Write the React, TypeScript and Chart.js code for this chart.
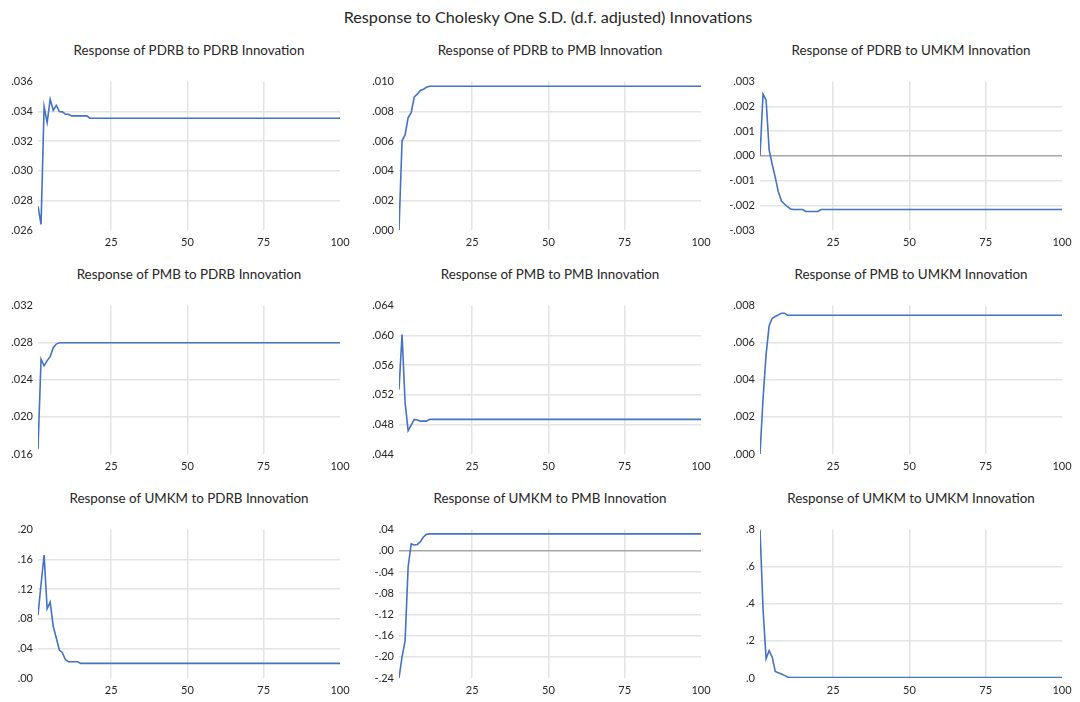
import React, { useEffect, useRef } from "react";
import { Chart, registerables } from "chart.js";

Chart.register(...registerables);
Chart.defaults.font.family = "Lato, 'Open Sans', sans-serif";

const mainTitle = "Response to Cholesky One S.D. (d.f. adjusted) Innovations";

const panelTitles = [
  "Response of PDRB to PDRB Innovation",
  "Response of PDRB to PMB Innovation",
  "Response of PDRB to UMKM Innovation",
  "Response of PMB to PDRB Innovation",
  "Response of PMB to PMB Innovation",
  "Response of PMB to UMKM Innovation",
  "Response of UMKM to PDRB Innovation",
  "Response of UMKM to PMB Innovation",
  "Response of UMKM to UMKM Innovation",
];

const periods = Array.from({ length: 100 }, (_, i) => i + 1);
const xTicks = [25, 50, 75, 100];

const pdrbToPdrb = [
  0.0276, 0.02638, 0.03431, 0.03324, 0.03481, 0.03407, 0.0344, 0.03398, 0.03396, 0.0338,
  0.0338, 0.03369, 0.03369, 0.03369, 0.03369, 0.03369, 0.03369, 0.03353, 0.03353, 0.03353,
  0.03353, 0.03353, 0.03353, 0.03353, 0.03353, 0.03353, 0.03353, 0.03353, 0.03353, 0.03353,
  0.03353, 0.03353, 0.03353, 0.03353, 0.03353, 0.03353, 0.03353, 0.03353, 0.03353, 0.03353,
  0.03353, 0.03353, 0.03353, 0.03353, 0.03353, 0.03353, 0.03353, 0.03353, 0.03353, 0.03353,
  0.03353, 0.03353, 0.03353, 0.03353, 0.03353, 0.03353, 0.03353, 0.03353, 0.03353, 0.03353,
  0.03353, 0.03353, 0.03353, 0.03353, 0.03353, 0.03353, 0.03353, 0.03353, 0.03353, 0.03353,
  0.03353, 0.03353, 0.03353, 0.03353, 0.03353, 0.03353, 0.03353, 0.03353, 0.03353, 0.03353,
  0.03353, 0.03353, 0.03353, 0.03353, 0.03353, 0.03353, 0.03353, 0.03353, 0.03353, 0.03353,
  0.03353, 0.03353, 0.03353, 0.03353, 0.03353, 0.03353, 0.03353, 0.03353, 0.03353, 0.03353,
];

const pdrbToPmb = [
  0.0, 0.00601, 0.00641, 0.00758, 0.00791, 0.00897, 0.00915, 0.0094, 0.00948, 0.00962,
  0.00969, 0.00969, 0.00969, 0.00969, 0.00969, 0.00969, 0.00969, 0.00969, 0.00969, 0.00969,
  0.00969, 0.00969, 0.00969, 0.00969, 0.00969, 0.00969, 0.00969, 0.00969, 0.00969, 0.00969,
  0.00969, 0.00969, 0.00969, 0.00969, 0.00969, 0.00969, 0.00969, 0.00969, 0.00969, 0.00969,
  0.00969, 0.00969, 0.00969, 0.00969, 0.00969, 0.00969, 0.00969, 0.00969, 0.00969, 0.00969,
  0.00969, 0.00969, 0.00969, 0.00969, 0.00969, 0.00969, 0.00969, 0.00969, 0.00969, 0.00969,
  0.00969, 0.00969, 0.00969, 0.00969, 0.00969, 0.00969, 0.00969, 0.00969, 0.00969, 0.00969,
  0.00969, 0.00969, 0.00969, 0.00969, 0.00969, 0.00969, 0.00969, 0.00969, 0.00969, 0.00969,
  0.00969, 0.00969, 0.00969, 0.00969, 0.00969, 0.00969, 0.00969, 0.00969, 0.00969, 0.00969,
  0.00969, 0.00969, 0.00969, 0.00969, 0.00969, 0.00969, 0.00969, 0.00969, 0.00969, 0.00969,
];

const pdrbToUmkm = [
  0.0, 0.00249, 0.00226, 0.00023, -0.00034, -0.00087, -0.00145, -0.00182, -0.00195, -0.00206,
  -0.00215, -0.00217, -0.00217, -0.00217, -0.00217, -0.00225, -0.00225, -0.00225, -0.00225, -0.00225,
  -0.00217, -0.00217, -0.00217, -0.00217, -0.00217, -0.00217, -0.00217, -0.00217, -0.00217, -0.00217,
  -0.00217, -0.00217, -0.00217, -0.00217, -0.00217, -0.00217, -0.00217, -0.00217, -0.00217, -0.00217,
  -0.00217, -0.00217, -0.00217, -0.00217, -0.00217, -0.00217, -0.00217, -0.00217, -0.00217, -0.00217,
  -0.00217, -0.00217, -0.00217, -0.00217, -0.00217, -0.00217, -0.00217, -0.00217, -0.00217, -0.00217,
  -0.00217, -0.00217, -0.00217, -0.00217, -0.00217, -0.00217, -0.00217, -0.00217, -0.00217, -0.00217,
  -0.00217, -0.00217, -0.00217, -0.00217, -0.00217, -0.00217, -0.00217, -0.00217, -0.00217, -0.00217,
  -0.00217, -0.00217, -0.00217, -0.00217, -0.00217, -0.00217, -0.00217, -0.00217, -0.00217, -0.00217,
  -0.00217, -0.00217, -0.00217, -0.00217, -0.00217, -0.00217, -0.00217, -0.00217, -0.00217, -0.00217,
];

const pmbToPdrb = [
  0.01653, 0.02622, 0.02551, 0.02607, 0.0265, 0.02746, 0.02785, 0.02799, 0.028, 0.028,
  0.028, 0.028, 0.028, 0.028, 0.028, 0.028, 0.028, 0.028, 0.028, 0.028,
  0.028, 0.028, 0.028, 0.028, 0.028, 0.028, 0.028, 0.028, 0.028, 0.028,
  0.028, 0.028, 0.028, 0.028, 0.028, 0.028, 0.028, 0.028, 0.028, 0.028,
  0.028, 0.028, 0.028, 0.028, 0.028, 0.028, 0.028, 0.028, 0.028, 0.028,
  0.028, 0.028, 0.028, 0.028, 0.028, 0.028, 0.028, 0.028, 0.028, 0.028,
  0.028, 0.028, 0.028, 0.028, 0.028, 0.028, 0.028, 0.028, 0.028, 0.028,
  0.028, 0.028, 0.028, 0.028, 0.028, 0.028, 0.028, 0.028, 0.028, 0.028,
  0.028, 0.028, 0.028, 0.028, 0.028, 0.028, 0.028, 0.028, 0.028, 0.028,
  0.028, 0.028, 0.028, 0.028, 0.028, 0.028, 0.028, 0.028, 0.028, 0.028,
];

const pmbToPmb = [
  0.05269, 0.0601, 0.05092, 0.04715, 0.0479, 0.04866, 0.04857, 0.04843, 0.04843, 0.04843,
  0.04866, 0.04866, 0.04866, 0.04866, 0.04866, 0.04866, 0.04866, 0.04866, 0.04866, 0.04866,
  0.04866, 0.04866, 0.04866, 0.04866, 0.04866, 0.04866, 0.04866, 0.04866, 0.04866, 0.04866,
  0.04866, 0.04866, 0.04866, 0.04866, 0.04866, 0.04866, 0.04866, 0.04866, 0.04866, 0.04866,
  0.04866, 0.04866, 0.04866, 0.04866, 0.04866, 0.04866, 0.04866, 0.04866, 0.04866, 0.04866,
  0.04866, 0.04866, 0.04866, 0.04866, 0.04866, 0.04866, 0.04866, 0.04866, 0.04866, 0.04866,
  0.04866, 0.04866, 0.04866, 0.04866, 0.04866, 0.04866, 0.04866, 0.04866, 0.04866, 0.04866,
  0.04866, 0.04866, 0.04866, 0.04866, 0.04866, 0.04866, 0.04866, 0.04866, 0.04866, 0.04866,
  0.04866, 0.04866, 0.04866, 0.04866, 0.04866, 0.04866, 0.04866, 0.04866, 0.04866, 0.04866,
  0.04866, 0.04866, 0.04866, 0.04866, 0.04866, 0.04866, 0.04866, 0.04866, 0.04866, 0.04866,
];

const pmbToUmkm = [
  0.0, 0.00298, 0.00537, 0.00691, 0.00732, 0.00741, 0.0075, 0.00759, 0.00759, 0.00748,
  0.00748, 0.00748, 0.00748, 0.00748, 0.00748, 0.00748, 0.00748, 0.00748, 0.00748, 0.00748,
  0.00748, 0.00748, 0.00748, 0.00748, 0.00748, 0.00748, 0.00748, 0.00748, 0.00748, 0.00748,
  0.00748, 0.00748, 0.00748, 0.00748, 0.00748, 0.00748, 0.00748, 0.00748, 0.00748, 0.00748,
  0.00748, 0.00748, 0.00748, 0.00748, 0.00748, 0.00748, 0.00748, 0.00748, 0.00748, 0.00748,
  0.00748, 0.00748, 0.00748, 0.00748, 0.00748, 0.00748, 0.00748, 0.00748, 0.00748, 0.00748,
  0.00748, 0.00748, 0.00748, 0.00748, 0.00748, 0.00748, 0.00748, 0.00748, 0.00748, 0.00748,
  0.00748, 0.00748, 0.00748, 0.00748, 0.00748, 0.00748, 0.00748, 0.00748, 0.00748, 0.00748,
  0.00748, 0.00748, 0.00748, 0.00748, 0.00748, 0.00748, 0.00748, 0.00748, 0.00748, 0.00748,
  0.00748, 0.00748, 0.00748, 0.00748, 0.00748, 0.00748, 0.00748, 0.00748, 0.00748, 0.00748,
];

const umkmToPdrb = [
  0.0846, 0.1263, 0.1658, 0.0934, 0.1022, 0.0693, 0.0539, 0.0377, 0.0342, 0.0246,
  0.0219, 0.0219, 0.0219, 0.0219, 0.0197, 0.0197, 0.0197, 0.0197, 0.0197, 0.0197,
  0.0197, 0.0197, 0.0197, 0.0197, 0.0197, 0.0197, 0.0197, 0.0197, 0.0197, 0.0197,
  0.0197, 0.0197, 0.0197, 0.0197, 0.0197, 0.0197, 0.0197, 0.0197, 0.0197, 0.0197,
  0.0197, 0.0197, 0.0197, 0.0197, 0.0197, 0.0197, 0.0197, 0.0197, 0.0197, 0.0197,
  0.0197, 0.0197, 0.0197, 0.0197, 0.0197, 0.0197, 0.0197, 0.0197, 0.0197, 0.0197,
  0.0197, 0.0197, 0.0197, 0.0197, 0.0197, 0.0197, 0.0197, 0.0197, 0.0197, 0.0197,
  0.0197, 0.0197, 0.0197, 0.0197, 0.0197, 0.0197, 0.0197, 0.0197, 0.0197, 0.0197,
  0.0197, 0.0197, 0.0197, 0.0197, 0.0197, 0.0197, 0.0197, 0.0197, 0.0197, 0.0197,
  0.0197, 0.0197, 0.0197, 0.0197, 0.0197, 0.0197, 0.0197, 0.0197, 0.0197, 0.0197,
];

const umkmToPmb = [
  -0.24, -0.2, -0.17, -0.03, 0.013, 0.011, 0.012, 0.017, 0.026, 0.031,
  0.032, 0.032, 0.032, 0.032, 0.032, 0.032, 0.032, 0.032, 0.032, 0.032,
  0.032, 0.032, 0.032, 0.032, 0.032, 0.032, 0.032, 0.032, 0.032, 0.032,
  0.032, 0.032, 0.032, 0.032, 0.032, 0.032, 0.032, 0.032, 0.032, 0.032,
  0.032, 0.032, 0.032, 0.032, 0.032, 0.032, 0.032, 0.032, 0.032, 0.032,
  0.032, 0.032, 0.032, 0.032, 0.032, 0.032, 0.032, 0.032, 0.032, 0.032,
  0.032, 0.032, 0.032, 0.032, 0.032, 0.032, 0.032, 0.032, 0.032, 0.032,
  0.032, 0.032, 0.032, 0.032, 0.032, 0.032, 0.032, 0.032, 0.032, 0.032,
  0.032, 0.032, 0.032, 0.032, 0.032, 0.032, 0.032, 0.032, 0.032, 0.032,
  0.032, 0.032, 0.032, 0.032, 0.032, 0.032, 0.032, 0.032, 0.032, 0.032,
];

const umkmToUmkm = [
  0.8, 0.371, 0.1036, 0.148, 0.1125, 0.0357, 0.0286, 0.0214, 0.0143, 0.0054,
  0.003, 0.003, 0.003, 0.003, 0.003, 0.003, 0.003, 0.003, 0.003, 0.003,
  0.003, 0.003, 0.003, 0.003, 0.003, 0.003, 0.003, 0.003, 0.003, 0.003,
  0.003, 0.003, 0.003, 0.003, 0.003, 0.003, 0.003, 0.003, 0.003, 0.003,
  0.003, 0.003, 0.003, 0.003, 0.003, 0.003, 0.003, 0.003, 0.003, 0.003,
  0.003, 0.003, 0.003, 0.003, 0.003, 0.003, 0.003, 0.003, 0.003, 0.003,
  0.003, 0.003, 0.003, 0.003, 0.003, 0.003, 0.003, 0.003, 0.003, 0.003,
  0.003, 0.003, 0.003, 0.003, 0.003, 0.003, 0.003, 0.003, 0.003, 0.003,
  0.003, 0.003, 0.003, 0.003, 0.003, 0.003, 0.003, 0.003, 0.003, 0.003,
  0.003, 0.003, 0.003, 0.003, 0.003, 0.003, 0.003, 0.003, 0.003, 0.003,
];

const allSeries = [
  pdrbToPdrb, pdrbToPmb, pdrbToUmkm,
  pmbToPdrb, pmbToPmb, pmbToUmkm,
  umkmToPdrb, umkmToPmb, umkmToUmkm,
];

const yMins = [0.026, 0.0, -0.003, 0.016, 0.044, 0.0, 0.0, -0.24, 0.0];
const yMaxs = [0.036, 0.01, 0.003, 0.032, 0.064, 0.008, 0.2, 0.04, 0.8];
const ySteps = [0.002, 0.002, 0.001, 0.004, 0.004, 0.002, 0.04, 0.04, 0.2];
const yDecimals = [3, 3, 3, 3, 3, 3, 2, 2, 1];

// layout (pixels)
const COL_W = 361;
const ROW_H = 224;
const AXIS_W = 38;
const PLOT_W = 302;
const PLOT_H = 150;
const PAD_TOP = 10;
const XAXIS_H = 20;
const FIRST_PLOT_TOP = 80;

const LINE_COLOR = "#4472c4";
const GRID_COLOR = "#e4e4e4";
const ZERO_COLOR = "#a6a6a6";
const TEXT_COLOR = "#262626";

function fmt(v: number, d: number, step: number) {
  const val = Math.abs(v) < step / 1000 ? 0 : v;
  const s = val.toFixed(d);
  return s.replace(/^(-?)0\./, "$1.");
}

function Panel({ idx }: { idx: number }) {
  const ref = useRef<HTMLCanvasElement | null>(null);
  const col = idx % 3;
  const row = Math.floor(idx / 3);
  const canvasW = COL_W;
  const canvasH = PAD_TOP + PLOT_H + XAXIS_H;

  useEffect(() => {
    if (!ref.current) return;
    const data = allSeries[idx].map((v, i) => ({ x: periods[i], y: v }));
    const yMin = yMins[idx];
    const yMax = yMaxs[idx];
    const dec = yDecimals[idx];
    const step = ySteps[idx];
    const chart = new Chart(ref.current, {
      type: "line",
      data: {
        datasets: [
          {
            data,
            borderColor: LINE_COLOR,
            backgroundColor: LINE_COLOR,
            borderWidth: 1.6,
            pointRadius: 0,
            tension: 0,
            fill: false,
          },
        ],
      },
      options: {
        responsive: false,
        animation: false,
        devicePixelRatio: 1,
        events: [],
        layout: {
          padding: { top: PAD_TOP, left: 0, right: COL_W - AXIS_W - PLOT_W, bottom: 0 },
        },
        plugins: {
          legend: { display: false },
          tooltip: { enabled: false },
          title: { display: false },
        },
        scales: {
          x: {
            type: "linear",
            min: 1,
            max: 100,
            afterBuildTicks: (s: any) => {
              s.ticks = xTicks.map((v) => ({ value: v }));
            },
            afterFit: (s: any) => {
              s.height = XAXIS_H;
            },
            border: { display: false },
            grid: {
              drawTicks: false,
              lineWidth: 1.5,
              color: (c: any) =>
                c.tick && c.tick.value === 100 ? "rgba(0,0,0,0)" : GRID_COLOR,
            },
            ticks: {
              padding: 6,
              autoSkip: false,
              maxRotation: 0,
              color: TEXT_COLOR,
              font: { size: 11 },
              callback: (v: any) => String(v),
            },
          },
          y: {
            type: "linear",
            min: yMin,
            max: yMax,
            afterFit: (s: any) => {
              s.width = AXIS_W;
            },
            border: { display: false },
            grid: {
              drawTicks: false,
              lineWidth: 1.5,
              color: (c: any) => {
                const v = c.tick ? c.tick.value : 0;
                const tol = step / 1000;
                if (Math.abs(v - yMin) < tol || Math.abs(v - yMax) < tol) return "rgba(0,0,0,0)";
                if (Math.abs(v) < tol) return ZERO_COLOR;
                return GRID_COLOR;
              },
            },
            ticks: {
              stepSize: step,
              padding: 5,
              color: TEXT_COLOR,
              font: { size: 11 },
              callback: (v: any) => fmt(Number(v), dec, step),
            },
          },
        },
      },
    } as any);
    return () => chart.destroy();
  }, [idx]);

  const plotTop = FIRST_PLOT_TOP + row * ROW_H;
  const canvasTop = plotTop - PAD_TOP;
  const canvasLeft = col * COL_W;
  const plotCenterX = canvasLeft + AXIS_W + PLOT_W / 2;

  return (
    <>
      <div
        style={{
          position: "absolute",
          left: plotCenterX,
          top: 50 + row * ROW_H - 9,
          transform: "translateX(-50%)",
          whiteSpace: "nowrap",
          fontFamily: "Lato, 'Open Sans', sans-serif",
          fontSize: 13.4,
          lineHeight: "18px",
          color: TEXT_COLOR,
        }}
      >
        {panelTitles[idx]}
      </div>
      <canvas
        ref={ref}
        width={canvasW}
        height={canvasH}
        style={{
          position: "absolute",
          left: canvasLeft,
          top: canvasTop,
          width: canvasW,
          height: canvasH,
        }}
      />
    </>
  );
}

export default function App() {
  return (
    <div
      style={{
        position: "absolute",
        left: 0,
        top: 0,
        width: 1080,
        height: 702,
        overflow: "hidden",
        background: "#ffffff",
      }}
    >
      <div
        style={{
          position: "absolute",
          left: 548,
          top: 6,
          transform: "translateX(-50%)",
          whiteSpace: "nowrap",
          fontFamily: "Lato, 'Open Sans', sans-serif",
          fontSize: 16.2,
          lineHeight: "22px",
          color: TEXT_COLOR,
        }}
      >
        {mainTitle}
      </div>
      {panelTitles.map((_, i) => (
        <Panel key={i} idx={i} />
      ))}
    </div>
  );
}
